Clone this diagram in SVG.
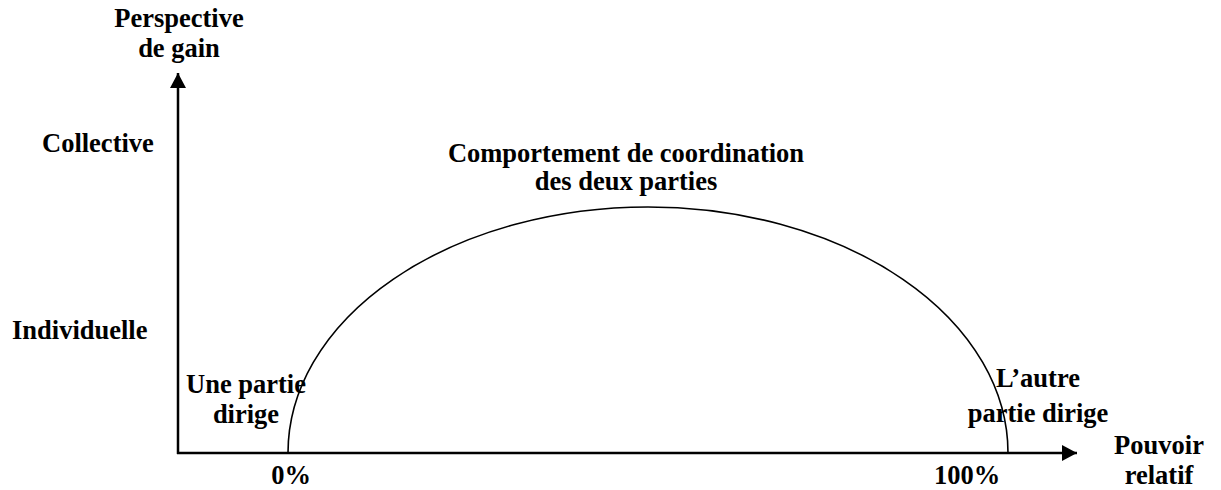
<svg xmlns="http://www.w3.org/2000/svg" width="1221" height="490" viewBox="0 0 1221 490">
<style>
text{font-family:"Liberation Serif","Times New Roman",serif;font-weight:bold;font-size:26.5px;fill:#000}
.m{text-anchor:middle}
.axis{stroke:#000;stroke-width:2.5;fill:none}
.curve{stroke:#000;stroke-width:1.6;fill:none}
</style>
<defs>
<marker id="arr" markerWidth="15" markerHeight="16" refX="15" refY="8" orient="auto" markerUnits="userSpaceOnUse">
<path d="M0,0 L15,8 L0,16 Z" fill="#000"/>
</marker>
</defs>
<g id="connectors">
<line class="axis" x1="178" y1="454" x2="178" y2="73" marker-end="url(#arr)"/>
<line class="axis" x1="177" y1="453" x2="1077" y2="453" marker-end="url(#arr)"/>
<path id="curve" class="curve" d="M288,453 A360,246 0 0 1 1008,453"/>
</g>
<g id="y-label"><text class="m" x="179" y="27">Perspective</text><text class="m" x="179" y="57">de gain</text></g>
<g id="collective"><text x="42" y="152">Collective</text></g>
<g id="individuelle"><text x="12" y="339">Individuelle</text></g>
<g id="coordination"><text class="m" x="626" y="162">Comportement de coordination</text><text class="m" x="626" y="190">des deux parties</text></g>
<g id="une-partie"><text class="m" x="246" y="393">Une partie</text><text class="m" x="246" y="423">dirige</text></g>
<g id="autre-partie"><text class="m" x="1038" y="387">L’autre</text><text class="m" x="1038" y="422">partie dirige</text></g>
<g id="zero"><text class="m" x="291" y="484">0%</text></g>
<g id="hundred"><text class="m" x="967" y="484">100%</text></g>
<g id="x-label"><text class="m" x="1159" y="454">Pouvoir</text><text class="m" x="1159" y="484">relatif</text></g>
</svg>
